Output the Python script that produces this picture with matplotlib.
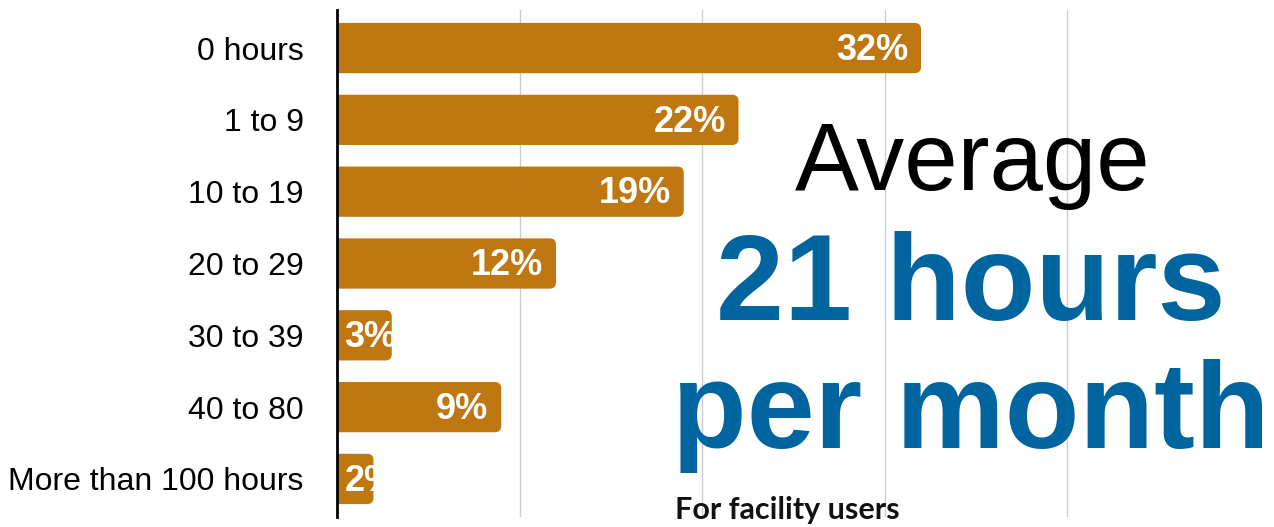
import matplotlib.pyplot as plt
from matplotlib.patches import FancyBboxPatch

# data
categories = ['0 hours', '1 to 9', '10 to 19', '20 to 29', '30 to 39', '40 to 80', 'More than 100 hours']
shares = [32, 22, 19, 12, 3, 9, 2]
bar_labels = ['32%', '22%', '19%', '12%', '3%', '9%', '2%']

bar_color = '#BF7712'
blue = '#00649F'

plt.rcParams['font.family'] = ['Liberation Sans', 'DejaVu Sans']

W, H = 1274, 527
fig = plt.figure(figsize=(W / 100, H / 100), dpi=100)
ax = fig.add_axes([337 / W, 10 / H, 1 - 337 / W, 507 / H])

xmax = 51.34
ax.set_xlim(0, xmax)
ax.set_ylim(6.53, -0.53)

# rounded bars (left end starts off-axis so it gets clipped square)
aspect = (7.06 / 507) / (xmax / (W - 337))
for i, v in enumerate(shares):
    patch = FancyBboxPatch((-1, i - 0.35), v + 1, 0.70,
                           boxstyle='round,pad=0,rounding_size=0.35',
                           mutation_aspect=aspect,
                           facecolor=bar_color, edgecolor='none', zorder=2)
    ax.add_patch(patch)
    if v < 5:
        t = ax.text(0.4, i + 0.03, bar_labels[i], ha='left', va='center',
                    color='white', fontsize=26, fontweight='bold', zorder=3)
    else:
        t = ax.text(v - 0.7, i + 0.03, bar_labels[i], ha='right', va='center',
                    color='white', fontsize=26, fontweight='bold', zorder=3)
    t.set_clip_path(patch)

ax.set_yticks(range(len(categories)))
ax.set_yticklabels(categories, fontsize=23)
ax.tick_params(axis='y', length=0, pad=24)
ax.set_xticks([10, 20, 30, 40])
ax.tick_params(axis='x', length=0, labelbottom=False)
ax.grid(axis='x', color='#CCCCCC', linewidth=1.0, zorder=0)
ax.set_axisbelow(True)
for s in ['top', 'right', 'bottom']:
    ax.spines[s].set_visible(False)
ax.spines['left'].set_linewidth(2)
ax.spines['left'].set_zorder(4)

# call-out text
fig.text(973 / W, 1 - 190 / H, 'Average', ha='center', va='baseline',
         fontsize=69, color='black')
fig.text(971 / W, 1 - 320 / H, '21 hours', ha='center', va='baseline',
         fontsize=88, fontweight='bold', color=blue)
fig.text(971 / W, 1 - 448 / H, 'per month', ha='center', va='baseline',
         fontsize=88, fontweight='bold', color=blue)
fig.text(675 / W, 1 - 519 / H, 'For facility users', ha='left', va='baseline',
         fontsize=22, fontweight='bold', color='#111111', family=['Lato', 'DejaVu Sans'])

plt.savefig('out.png', dpi=100)
